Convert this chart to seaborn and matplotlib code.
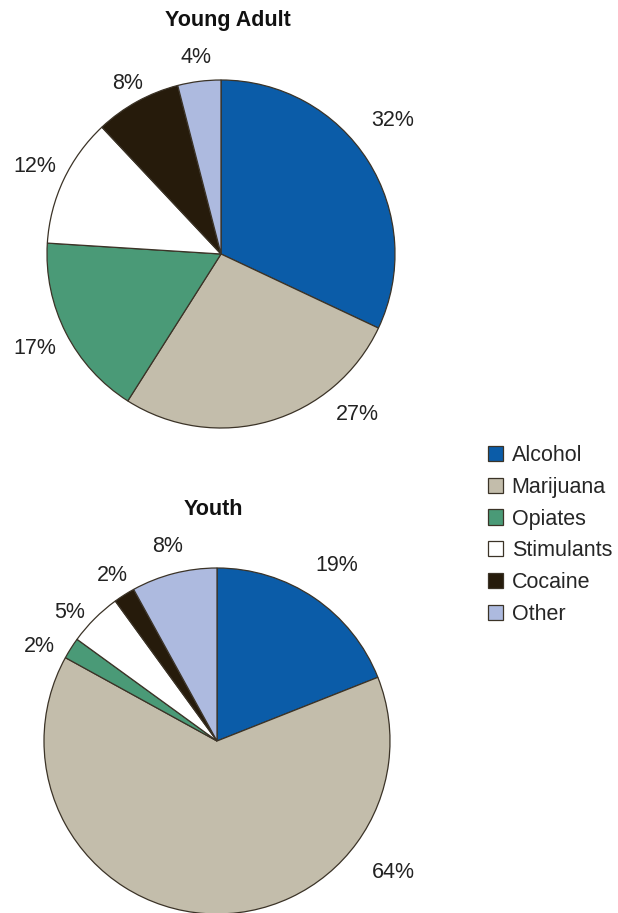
import matplotlib
matplotlib.use("Agg")
import matplotlib.pyplot as plt
import seaborn as sns
import numpy as np

# Data
substances = ["Alcohol", "Marijuana", "Opiates", "Stimulants", "Cocaine", "Other"]
young_adult = [32, 27, 17, 12, 8, 4]
youth = [19, 64, 2, 5, 2, 8]

# Style
colors = ["#0b5ca8", "#c3bdab", "#4a9a77", "#ffffff", "#261b0b", "#adbadf"]
edge = "#3b3327"
font_size = 15.5

sns.set_theme(style="white")
plt.rcParams["font.family"] = ["Liberation Sans", "DejaVu Sans"]

# label placement (distance in radii, optional angle override in degrees)
ya_dist = [1.25, 1.21, 1.20, 1.18, 1.12, 1.14]
ya_angle = [38, -49.6, None, None, None, None]
youth_dist = [1.23, 1.27, 1.16, 1.13, 1.13, 1.16]
youth_angle = [None, -36.7, 152, 139, None, None]

W, H = 618, 913
fig = plt.figure(figsize=(W / 100, H / 100), dpi=100)
palette = sns.color_palette(colors)


def draw_pie(ax, values, title, dists, angles, title_x):
    wedges, texts = ax.pie(values, colors=palette, startangle=90, counterclock=False,
                           labels=[f"{v}%" for v in values], labeldistance=1.2,
                           wedgeprops=dict(edgecolor=edge, linewidth=0.9),
                           textprops=dict(fontsize=font_size, color="#222222"))
    for w, t, d, a in zip(wedges, texts, dists, angles):
        ang = a if a is not None else (w.theta1 + w.theta2) / 2
        r = np.deg2rad(ang)
        t.set_position((d * np.cos(r), d * np.sin(r)))
        t.set_ha("center")
        t.set_va("center")
    ax.set_xlim(-1, 1)
    ax.set_ylim(-1, 1)
    ax.set_aspect("equal")
    ax.axis("off")
    ax.text(title_x, 1.34, title, ha="center", va="center", fontsize=font_size,
            fontweight="bold", color="#111111")
    return wedges


# top pie: centre (221, 254), radius 174 px
ax1 = fig.add_axes([47 / W, (H - 428) / H, 348 / W, 348 / H])
wedges = draw_pie(ax1, young_adult, "Young Adult", ya_dist, ya_angle, 0.04)

# bottom pie: centre (217, 741), radius 173 px
ax2 = fig.add_axes([44 / W, (H - 914) / H, 346 / W, 346 / H])
draw_pie(ax2, youth, "Youth", youth_dist, youth_angle, -0.02)

fig.legend(wedges, substances, loc="upper left",
           bbox_to_anchor=(488 / W, 1 - 445 / H), frameon=False,
           fontsize=font_size, handlelength=0.7, handleheight=0.7,
           handletextpad=0.4, labelspacing=0.5, borderpad=0, borderaxespad=0)

fig.savefig("out.png", dpi=100)
